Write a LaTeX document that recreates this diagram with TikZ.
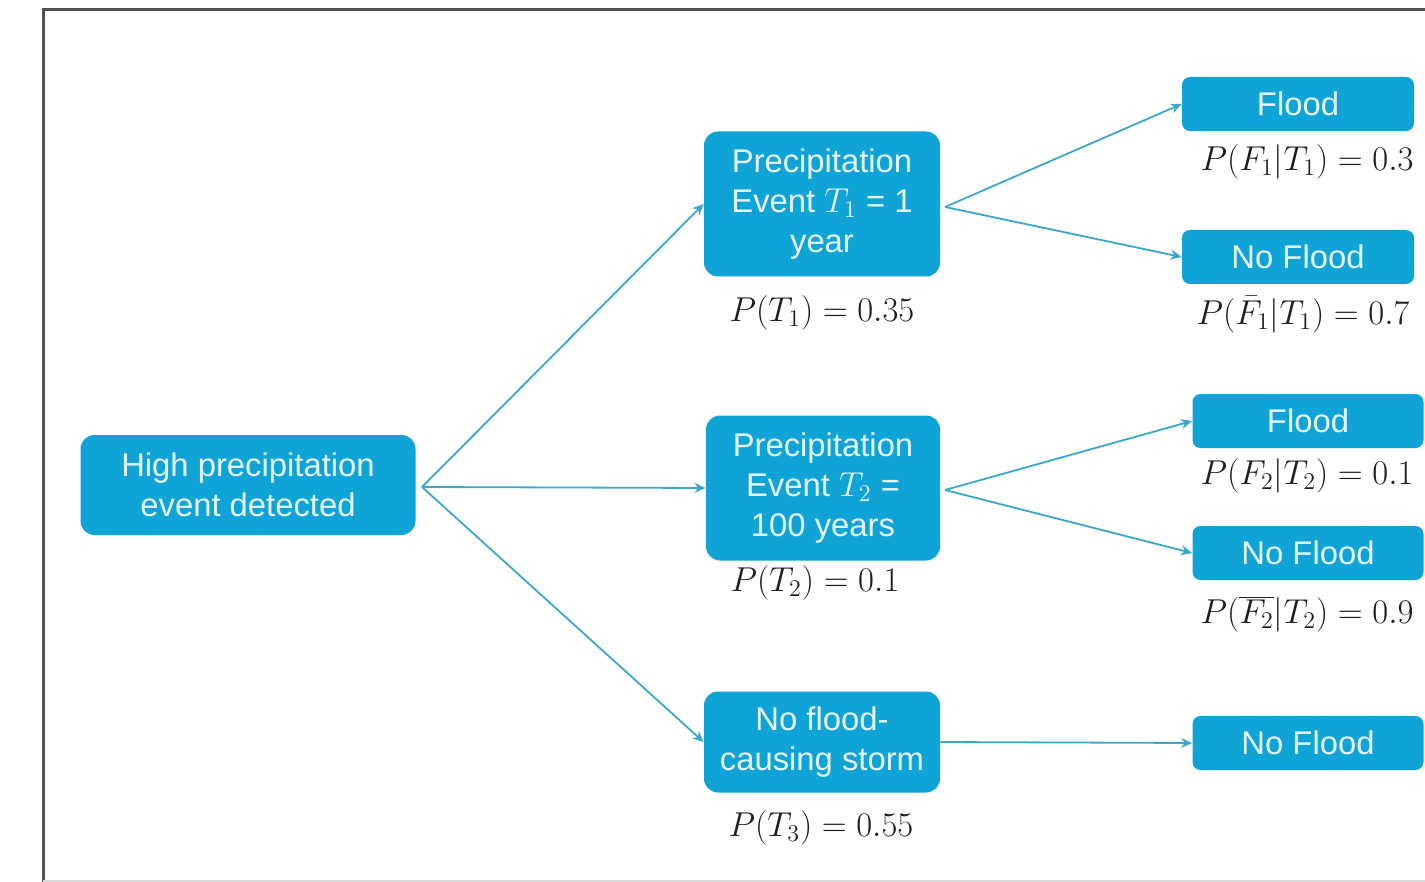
\documentclass[tikz,border=0pt]{standalone}
\usepackage{fontspec}
\setmainfont{Liberation Sans}
\usetikzlibrary{arrows.meta}
\definecolor{boxblue}{RGB}{16,164,214}
\definecolor{arrowblue}{RGB}{58,168,204}
\definecolor{boxtext}{RGB}{228,246,252}
\definecolor{mathgray}{RGB}{30,30,30}
\definecolor{framegray}{RGB}{80,80,80}
\begin{document}
\begin{tikzpicture}[x=0.5pt,y=-0.5pt,
  bigbox/.style={fill=boxblue, text=boxtext, rounded corners=7pt, align=center, inner sep=0pt, font=\fontsize{16.4}{20}\selectfont},
  smallbox/.style={fill=boxblue, text=boxtext, rounded corners=4pt, align=center, inner sep=0pt, minimum height=27pt, font=\fontsize{16.4}{20}\selectfont},
  prob/.style={text=mathgray, inner sep=0pt, font=\fontsize{16.5}{20}\selectfont},
  conn/.style={draw=arrowblue, line width=0.9pt, -{Stealth[length=5.5pt,width=5pt]}}
]
\useasboundingbox (0,0) rectangle (1425,882);
\fill[white] (0,0) rectangle (1425,882);
% frame
\draw[framegray, line width=1.5pt] (43,882) -- (43,10) -- (1425,10);
\draw[black!15, line width=0.6pt] (43,881) -- (1425,881);

% nodes
\node[bigbox, minimum width=167.5pt, minimum height=50pt] (root) at (248,485) {High precipitation\\event detected};
\node[bigbox, minimum width=118pt, minimum height=72.5pt] (t1) at (822,204) {Precipitation\\Event $T_1$ = 1\\year};
\node[bigbox, minimum width=117pt, minimum height=72.5pt] (t2) at (823,488) {Precipitation\\Event $T_2$ =\\100 years};
\node[bigbox, minimum width=118pt, minimum height=50.5pt] (t3) at (822,742) {No flood-\\causing storm};

\node[smallbox, minimum width=116pt] (f1) at (1298,104) {Flood};
\node[smallbox, minimum width=116pt] (nf1) at (1298,257) {No Flood};
\node[smallbox, minimum width=115.5pt] (f2) at (1308,421) {Flood};
\node[smallbox, minimum width=115.5pt] (nf2) at (1308,553) {No Flood};
\node[smallbox, minimum width=115.5pt] (nf3) at (1308,743) {No Flood};

% probability labels
\node[prob] (pt1) at (822,313) {$P(T_1) = 0.35$};
\node[prob] (pf1) at (1307,162) {$P(F_1|T_1) = 0.3$};
\node[prob] (pnf1) at (1303,315) {$P(\bar{F}_1|T_1) = 0.7$};
\node[prob] (pt2) at (815,583) {$P(T_2) = 0.1$};
\node[prob] (pf2) at (1307,476) {$P(F_2|T_2) = 0.1$};
\node[prob] (pnf2) at (1307,614) {$P(\overline{F_2}|T_2) = 0.9$};
\node[prob] (pt3) at (821,828) {$P(T_3) = 0.55$};

% branch points
\coordinate (s0) at (422,487);
\coordinate (s1) at (945,207);
\coordinate (s2) at (945,490);

% connectors
\draw[conn] (s0) -- (t1.west);
\draw[conn] (s0) -- (t2.west);
\draw[conn] (s0) -- (t3.west);
\draw[conn] (s1) -- (f1.west);
\draw[conn] (s1) -- (nf1.west);
\draw[conn] (s2) -- (f2.west);
\draw[conn] (s2) -- (nf2.west);
\draw[conn] (t3.east) -- (nf3.west);
\end{tikzpicture}
\end{document}
